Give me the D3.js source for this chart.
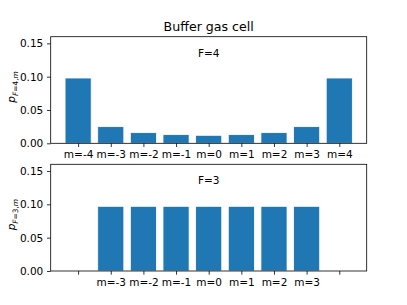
<!DOCTYPE html>
<html>
<head>
<meta charset="utf-8">
<script src="https://cdn.jsdelivr.net/npm/d3@7"></script>
<style>
  body { margin: 0; background: #fff; }
  text { font-family: "DejaVu Sans", sans-serif; fill: #000; }
</style>
</head>
<body>
<div id="chart"></div>
<script>
const states = [-4, -3, -2, -1, 0, 1, 2, 3, 4];
const labels4 = ["m=-4", "m=-3", "m=-2", "m=-1", "m=0", "m=1", "m=2", "m=3", "m=4"];
const values4 = [0.098, 0.025, 0.016, 0.013, 0.012, 0.013, 0.016, 0.025, 0.098];
const states3 = [-3, -2, -1, 0, 1, 2, 3];
const labels3 = ["", "m=-3", "m=-2", "m=-1", "m=0", "m=1", "m=2", "m=3", ""];
const values3 = [0.097, 0.097, 0.097, 0.097, 0.097, 0.097, 0.097];
const yTicks = [0, 0.05, 0.10, 0.15];

const width = 407, height = 305;
const svg = d3.select("#chart").append("svg").attr("width", width).attr("height", height);

const left = 50.7, right = 366.7;
const x = d3.scaleLinear().domain([-4.84, 4.84]).range([left, right]);
const fs = 10.5;

svg.append("text")
   .attr("x", (left + right) / 2).attr("y", 31)
   .attr("text-anchor", "middle").style("font-size", "12.6px")
   .text("Buffer gas cell");

function panel(top, bottom, xs, vals, tickLabels, note, f) {
    const y = d3.scaleLinear().domain([0, 0.16]).range([bottom, top]);
    const g = svg.append("g");

    g.selectAll("rect.bar")
     .data(vals)
     .enter()
     .append("rect")
     .attr("class", "bar")
     .attr("x", (d, i) => x(xs[i] - 0.4))
     .attr("width", x(0.4) - x(-0.4))
     .attr("y", d => y(d))
     .attr("height", d => y(0) - y(d))
     .style("fill", "#1f77b4")
     .style("stroke", "#fff")
     .style("stroke-width", 0.8);

    const xAxis = d3.axisBottom(x).tickValues(states)
        .tickFormat((d, i) => tickLabels[i]).tickSize(3.7).tickPadding(3.7);
    g.append("g").attr("transform", `translate(0,${bottom})`).call(xAxis)
     .call(a => a.select(".domain").remove())
     .call(a => a.selectAll("text").style("font-size", fs + "px").style("font-family", "DejaVu Sans"))
     .call(a => a.selectAll("line").attr("stroke-width", 0.8));

    const yAxis = d3.axisLeft(y).tickValues(yTicks).tickFormat(d3.format(".2f"))
        .tickSize(3.7).tickPadding(3.7);
    g.append("g").attr("transform", `translate(${left},0)`).call(yAxis)
     .call(a => a.select(".domain").remove())
     .call(a => a.selectAll("text").style("font-size", fs + "px").style("font-family", "DejaVu Sans"))
     .call(a => a.selectAll("line").attr("stroke-width", 0.8));

    g.append("rect")
     .attr("x", left).attr("y", top)
     .attr("width", right - left).attr("height", bottom - top)
     .style("fill", "none").style("stroke", "#000").style("stroke-width", 0.8);

    g.append("text")
     .attr("x", (left + right) / 2).attr("y", y(0.13))
     .attr("text-anchor", "middle").style("font-size", fs + "px")
     .text(note);

    // p_{F=f,m}
    const lab = g.append("text")
     .attr("transform", `translate(15,${(top + bottom) / 2 - 3}) rotate(-90)`)
     .attr("text-anchor", "middle").style("font-size", fs + "px");
    lab.append("tspan").style("font-style", "italic").text("p");
    lab.append("tspan").attr("dy", 2.8).style("font-size", "7.4px").style("font-style", "italic").text("F");
    lab.append("tspan").style("font-size", "7.4px").text("=" + f + ",");
    lab.append("tspan").style("font-size", "7.4px").style("font-style", "italic").text("m");
}

panel(36.7, 143.3, states, values4, labels4, "F=4", 4);
panel(164.3, 271, states3, values3, labels3, "F=3", 3);
</script>
</body>
</html>
